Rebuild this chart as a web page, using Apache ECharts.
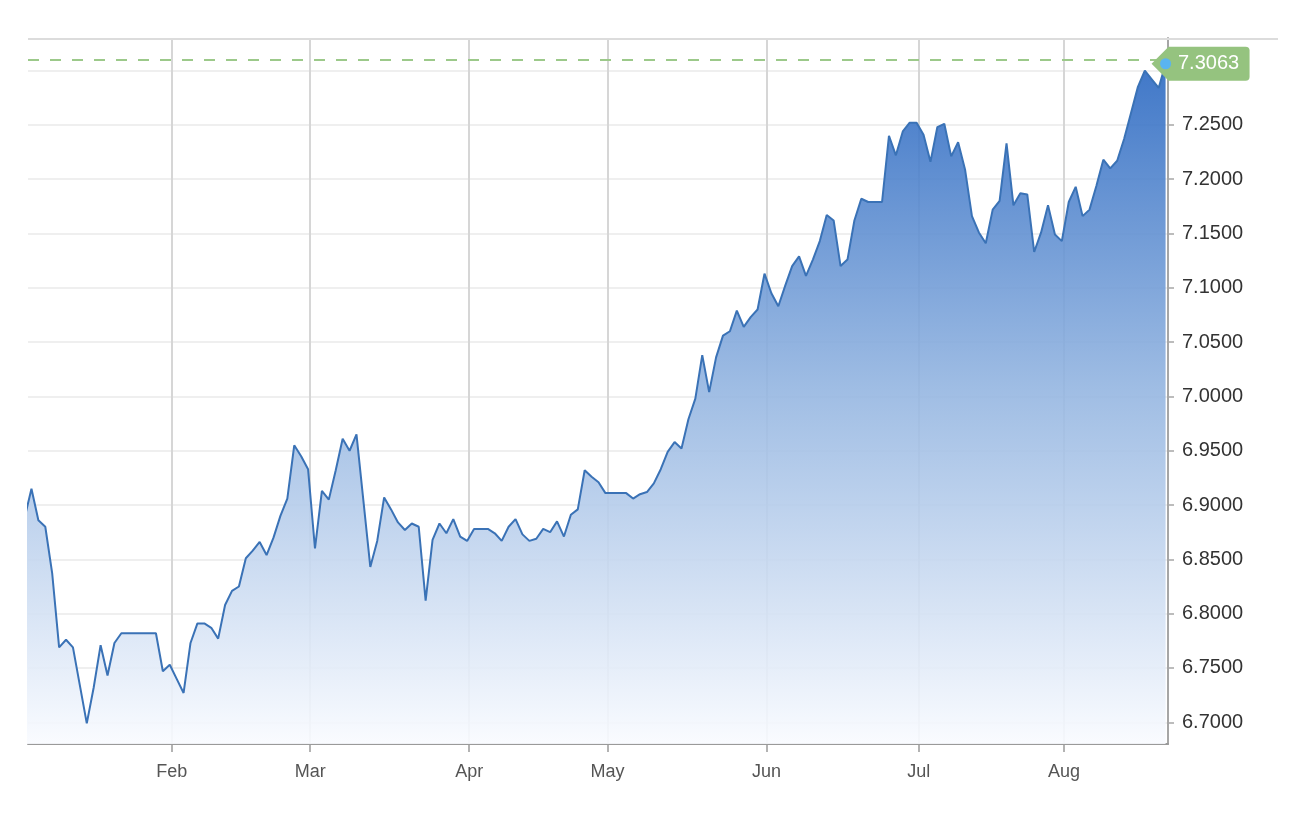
<!DOCTYPE html>
<html>
<head>
<meta charset="utf-8">
<script src="https://cdn.jsdelivr.net/npm/echarts@6/dist/echarts.min.js"></script>
<style>
html,body{margin:0;padding:0;background:#ffffff;}
#chart{width:1300px;height:820px;}
</style>
</head>
<body>
<div id="chart"></div>
<script>
// Trading days (weekdays) from start to end
const startDate = '2023-01-02';
const endDate = '2023-08-21';

// Closing values, one per weekday
const values = [
  6.888, 6.915, 6.886, 6.880, 6.837, 6.769, 6.776, 6.769, 6.734, 6.699,
  6.732, 6.771, 6.743, 6.773, 6.782, 6.782, 6.782, 6.782, 6.782, 6.782,
  6.747, 6.753, 6.740, 6.727, 6.773, 6.791, 6.791, 6.787, 6.777, 6.808,
  6.821, 6.825, 6.851, 6.858, 6.866, 6.854, 6.870, 6.890, 6.906, 6.955,
  6.945, 6.933, 6.860, 6.913, 6.905, 6.932, 6.961, 6.950, 6.965, 6.904,
  6.843, 6.867, 6.907, 6.896, 6.884, 6.877, 6.883, 6.880, 6.812, 6.868,
  6.883, 6.874, 6.887, 6.871, 6.867, 6.878, 6.878, 6.878, 6.874, 6.867,
  6.880, 6.887, 6.873, 6.867, 6.869, 6.878, 6.875, 6.885, 6.871, 6.891,
  6.896, 6.932, 6.926, 6.921, 6.911, 6.911, 6.911, 6.911, 6.906, 6.910,
  6.912, 6.920, 6.933, 6.949, 6.958, 6.952, 6.979, 6.998, 7.038, 7.004,
  7.036, 7.056, 7.060, 7.079, 7.064, 7.073, 7.080, 7.113, 7.095, 7.083,
  7.102, 7.120, 7.129, 7.111, 7.126, 7.143, 7.167, 7.162, 7.120, 7.126,
  7.162, 7.182, 7.179, 7.179, 7.179, 7.240, 7.222, 7.244, 7.252, 7.252,
  7.241, 7.216, 7.248, 7.251, 7.221, 7.234, 7.209, 7.166, 7.151, 7.141,
  7.172, 7.180, 7.233, 7.176, 7.187, 7.186, 7.133, 7.151, 7.176, 7.149,
  7.143, 7.179, 7.193, 7.166, 7.172, 7.194, 7.218, 7.210, 7.217, 7.237,
  7.261, 7.285, 7.300, 7.292, 7.284, 7.3063
];

const monthNames = ['Jan','Feb','Mar','Apr','May','Jun','Jul','Aug','Sep','Oct','Nov','Dec'];
const yTicks = [6.70, 6.75, 6.80, 6.85, 6.90, 6.95, 7.00, 7.05, 7.10, 7.15, 7.20, 7.25, 7.30];
const yLabelTicks = [6.70, 6.75, 6.80, 6.85, 6.90, 6.95, 7.00, 7.05, 7.10, 7.15, 7.20, 7.25];

// Build weekday category list
const dates = [];
{
  const end = new Date(endDate + 'T00:00:00Z');
  for (let d = new Date(startDate + 'T00:00:00Z'); d <= end; d.setUTCDate(d.getUTCDate() + 1)) {
    const wd = d.getUTCDay();
    if (wd !== 0 && wd !== 6) dates.push(d.toISOString().slice(0, 10));
  }
}

// Month boundary ticks (placed just before first trading day of each month)
const monthTicks = [];
const monthTickLabel = {};
for (let i = 1; i < dates.length; i++) {
  if (dates[i].slice(5, 7) !== dates[i - 1].slice(5, 7)) {
    const pos = i - 0.7;
    monthTicks.push(pos);
    monthTickLabel[pos.toFixed(2)] = monthNames[parseInt(dates[i].slice(5, 7), 10) - 1];
  }
}

const seriesData = dates.map((d, i) => [i, values[i]]);
const lastIdx = dates.length - 1;
const lastVal = values[lastIdx];

const fontFamily = '"Liberation Sans", Arial, Helvetica, sans-serif';

const chart = echarts.init(document.getElementById('chart'), null, {renderer: 'canvas'});
chart.setOption({
  animation: false,
  backgroundColor: '#ffffff',
  grid: {left: 28, right: 132, top: 38, bottom: 76, containLabel: false},
  xAxis: {
    type: 'value',
    min: 0.5,
    max: lastIdx + 0.35,
    axisLine: {show: true, onZero: false, lineStyle: {color: '#9a9a9a', width: 2}},
    axisTick: {show: true, customValues: monthTicks, length: 8, lineStyle: {color: '#9a9a9a', width: 1.5}},
    axisLabel: {
      customValues: monthTicks,
      formatter: v => monthTickLabel[Number(v).toFixed(2)] || '',
      color: '#555555', fontSize: 18, margin: 19, fontFamily: fontFamily
    },
    splitLine: {show: true, lineStyle: {color: '#d6d6d6', width: 2}}
  },
  yAxis: {
    type: 'value',
    position: 'right',
    min: 6.68,
    max: 7.33,
    scale: true,
    axisLine: {show: true, lineStyle: {color: '#a6a6a6', width: 2}},
    axisTick: {show: true, customValues: yTicks, length: 6, lineStyle: {color: '#a6a6a6', width: 1.5}},
    axisLabel: {
      customValues: yLabelTicks,
      formatter: v => Number(v).toFixed(4),
      color: '#333333', fontSize: 20, margin: 14, fontFamily: fontFamily
    },
    splitLine: {show: true, lineStyle: {color: '#efefef', width: 2}}
  },
  graphic: [{
    type: 'line',
    shape: {x1: 28, y1: 39, x2: 1278, y2: 39},
    style: {stroke: '#dcdcdc', lineWidth: 2},
    z: 10
  }],
  series: [{
    type: 'line',
    data: seriesData,
    symbol: 'none',
    showSymbol: false,
    lineStyle: {color: '#3a72b6', width: 2},
    areaStyle: {
      opacity: 0.9,
      color: {
        type: 'linear', x: 0, y: 38, x2: 0, y2: 744, global: true,
        colorStops: [
          {offset: 0, color: '#2262bf'},
          {offset: 0.5, color: '#95b6e1'},
          {offset: 1, color: '#f9fbff'}
        ]
      }
    },
    markLine: {
      silent: true,
      symbol: 'none',
      label: {show: false},
      lineStyle: {type: [11, 11], color: '#9cc98a', width: 2},
      data: [{yAxis: lastVal}]
    },
    markPoint: {
      silent: true,
      data: [
        {
          coord: [lastIdx, lastVal],
          symbol: 'path://M0,17 L17,0 L94,0 Q98,0 98,4 L98,30 Q98,34 94,34 L17,34 Z',
          symbolSize: [98, 34],
          symbolOffset: [35, 0],
          itemStyle: {color: '#95c37f'},
          label: {
            show: true, position: 'inside', offset: [8, 0],
            formatter: lastVal.toFixed(4),
            color: '#ffffff', fontSize: 20, fontFamily: fontFamily
          }
        },
        {
          coord: [lastIdx, lastVal],
          symbol: 'circle',
          symbolSize: 11,
          itemStyle: {color: '#5ab4f0'},
          label: {show: false}
        }
      ]
    }
  }]
});
</script>
</body>
</html>
